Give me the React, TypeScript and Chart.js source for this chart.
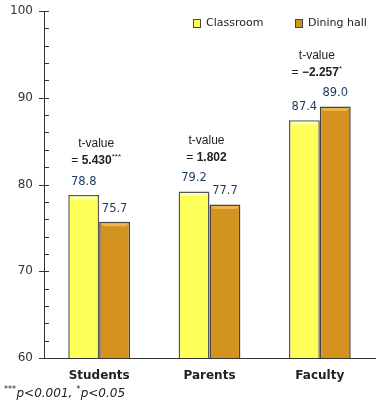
import React, { useEffect, useRef } from "react";
import { Chart, registerables } from "chart.js";
Chart.register(...registerables);

const categories = ["Students", "Parents", "Faculty"];
const seriesNames = ["Classroom", "Dining hall"];
const classroom = [78.8, 79.2, 87.4];
const diningHall = [75.7, 77.7, 89.0];
const tValues = ["5.430", "1.802", "\u22122.257"];
const tStars = ["***", "", "*"];
const yMin = 60;
const yMax = 100;
const yMinorStep = 2;
const yMajorStep = 10;
const footnoteParts = [
  { text: "***", sup: true },
  { text: "p<0.001, ", sup: false },
  { text: "*", sup: true },
  { text: "p<0.05", sup: false },
];

const COLORS = ["#FFFF5A", "#D4921E"];
const HILITE = ["#FFFFB0", "#EDB552"];
const FONT = "'DejaVu Sans', sans-serif";
const TFONT = "'Liberation Sans', Arial, sans-serif";

const overlay = {
  id: "overlay",
  afterDatasetsDraw(chart: any) {
    const ctx = chart.ctx;
    ctx.save();
    chart.data.datasets.forEach((ds: any, i: number) => {
      const meta = chart.getDatasetMeta(i);
      meta.data.forEach((el: any) => {
        const w = el.width;
        const l = el.x - w / 2;
        const r = el.x + w / 2;
        const t = el.y;
        ctx.fillStyle = HILITE[i];
        ctx.beginPath();
        ctx.moveTo(l + 1.5, t + 1.5);
        ctx.lineTo(r - 1.5, t + 1.5);
        ctx.lineTo(r - 4, t + 4.5);
        ctx.lineTo(l + 4, t + 4.5);
        ctx.closePath();
        ctx.fill();
      });
    });
    ctx.restore();
  },
  afterDraw(chart: any) {
    const ctx = chart.ctx;
    const ys = chart.scales.y;
    const xs = chart.scales.x;
    const area = chart.chartArea;
    ctx.save();
    // tick marks
    ctx.strokeStyle = "#333";
    ctx.lineWidth = 1;
    for (let v = yMin; v <= yMax; v += yMinorStep) {
      const py = Math.round(ys.getPixelForValue(v)) + 0.5;
      const major = v % yMajorStep === 0;
      ctx.beginPath();
      ctx.moveTo(area.left - (major ? 5 : 0), py);
      ctx.lineTo(area.left + 5, py);
      ctx.stroke();
    }
    // value labels
    ctx.font = `11.5px ${FONT}`;
    ctx.fillStyle = "#1F3A5F";
    ctx.textAlign = "center";
    ctx.textBaseline = "middle";
    chart.data.datasets.forEach((ds: any, i: number) => {
      const meta = chart.getDatasetMeta(i);
      meta.data.forEach((el: any, j: number) => {
        ctx.fillText(Number(ds.data[j]).toFixed(1), el.x, el.y - 13);
      });
    });
    // t-value annotations
    categories.forEach((c, j) => {
      const tops = chart.data.datasets.map((_: any, i: number) => chart.getDatasetMeta(i).data[j].y);
      const top = Math.min(...tops);
      const cx = xs.getPixelForValue(j) - 3;
      ctx.fillStyle = "#222";
      ctx.textAlign = "center";
      ctx.font = `12px ${TFONT}`;
      ctx.fillText("t-value", cx, top - 51);
      const p1 = "= ";
      const p2 = tValues[j];
      const p3 = tStars[j];
      ctx.font = `12px ${TFONT}`;
      const w1 = ctx.measureText(p1).width;
      ctx.font = `bold 12px ${TFONT}`;
      const w2 = ctx.measureText(p2).width;
      ctx.font = `8px ${TFONT}`;
      const w3 = ctx.measureText(p3).width;
      let x0 = cx - (w1 + w2 + w3) / 2;
      const yb = top - 34;
      ctx.textAlign = "left";
      ctx.font = `12px ${TFONT}`;
      ctx.fillText(p1, x0, yb);
      x0 += w1;
      ctx.font = `bold 12px ${TFONT}`;
      ctx.fillText(p2, x0, yb);
      x0 += w2;
      ctx.font = `8px ${TFONT}`;
      ctx.fillText(p3, x0, yb - 4);
    });
    // legend
    const legendX = [193, 295];
    ctx.textAlign = "left";
    ctx.textBaseline = "middle";
    seriesNames.forEach((name, i) => {
      const lx = legendX[i];
      ctx.fillStyle = COLORS[i];
      ctx.fillRect(lx + 0.5, 19.5, 7, 8);
      ctx.strokeStyle = "#444";
      ctx.strokeRect(lx + 0.5, 19.5, 7, 8);
      ctx.fillStyle = "#222";
      ctx.font = `11px ${FONT}`;
      ctx.fillText(name, lx + 13, 23.5);
    });
    // footnote
    let fx = 4;
    const fy = 397;
    ctx.textBaseline = "alphabetic";
    ctx.fillStyle = "#222";
    footnoteParts.forEach((p) => {
      ctx.font = p.sup ? `italic 8px ${FONT}` : `italic 12px ${FONT}`;
      ctx.fillText(p.text, fx, p.sup ? fy - 5 : fy);
      fx += ctx.measureText(p.text).width + (p.sup ? 0.5 : 0);
    });
    ctx.restore();
  },
};

export default function App() {
  const ref = useRef<HTMLCanvasElement | null>(null);
  useEffect(() => {
    if (!ref.current) return;
    const chart = new Chart(ref.current, {
      type: "bar",
      data: {
        labels: categories,
        datasets: [
          {
            label: seriesNames[0],
            data: classroom,
            backgroundColor: COLORS[0],
            borderColor: "#555",
            borderWidth: 1.5,
            categoryPercentage: 0.56,
            barPercentage: 1,
          },
          {
            label: seriesNames[1],
            data: diningHall,
            backgroundColor: COLORS[1],
            borderColor: "#444",
            borderWidth: 1.5,
            categoryPercentage: 0.56,
            barPercentage: 1,
          },
        ],
      },
      options: {
        responsive: false,
        animation: false,
        events: [],
        layout: { padding: { top: 11, right: 5, left: 0, bottom: 0 } },
        plugins: { legend: { display: false }, tooltip: { enabled: false } },
        scales: {
          x: {
            grid: { drawOnChartArea: false, drawTicks: false },
            border: { color: "#333", width: 1 },
            ticks: { font: { family: FONT, size: 12, weight: "bold" }, color: "#222", padding: 11 },
            afterFit: (s: any) => {
              s.height = 50;
              s.paddingLeft = 0;
              s.paddingRight = 0;
            },
          },
          y: {
            min: yMin,
            max: yMax,
            grid: { drawOnChartArea: false, drawTicks: false },
            border: { color: "#333", width: 1 },
            ticks: {
              stepSize: yMinorStep,
              autoSkip: false,
              font: { family: FONT, size: 12 },
              color: "#333",
              padding: 11,
              callback: (v: any) => (Number(v) % yMajorStep === 0 ? String(v) : ""),
            },
            afterFit: (s: any) => {
              s.width = 44;
              s.paddingTop = 0;
              s.paddingBottom = 0;
            },
          },
        },
      },
      plugins: [overlay],
    } as any);
    return () => chart.destroy();
  }, []);
  return (
    <div style={{ position: "fixed", left: 0, top: 0, width: 380, height: 408, background: "#fff" }}>
      <canvas ref={ref} width={380} height={408} style={{ display: "block" }} />
    </div>
  );
}
